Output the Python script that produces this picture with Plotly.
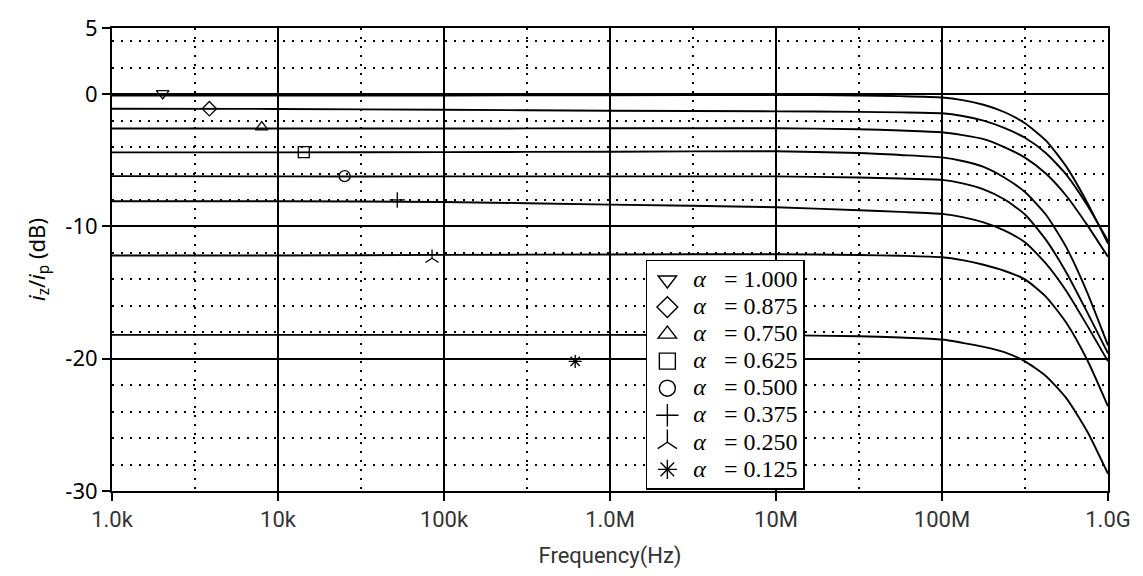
import plotly.graph_objects as go

# ---------------- data ----------------
freq = [1e3, 1e4, 1e5, 1e6, 1e7, 3.16e7, 5.62e7, 1e8, 1.33e8, 1.78e8, 2.37e8,
        3.16e8, 4.22e8, 5.62e8, 7.5e8, 1e9]

a1000 = [-0.10, -0.10, -0.10, -0.08, -0.06, -0.10, -0.15, -0.25, -0.45, -0.80, -1.35,
         -2.20, -3.50, -5.50, -8.20, -11.30]
a0875 = [-1.10, -1.12, -1.18, -1.25, -1.30, -1.34, -1.38, -1.45, -1.65, -2.00, -2.55,
         -3.30, -4.45, -6.10, -8.40, -11.10]
a0750 = [-2.60, -2.60, -2.60, -2.58, -2.58, -2.65, -2.75, -2.88, -3.10, -3.40, -4.00,
         -4.80, -6.00, -7.70, -9.90, -12.30]
a0625 = [-4.40, -4.40, -4.38, -4.35, -4.32, -4.45, -4.60, -4.78, -5.05, -5.50, -6.30,
         -7.40, -9.10, -11.60, -15.00, -19.00]
a0500 = [-6.20, -6.22, -6.22, -6.22, -6.22, -6.30, -6.38, -6.48, -6.75, -7.20, -7.95,
         -9.10, -11.00, -13.50, -16.50, -19.60]
a0375 = [-8.10, -8.10, -8.15, -8.35, -8.55, -8.78, -8.90, -9.05, -9.30, -9.70, -10.30,
         -11.20, -12.80, -14.90, -17.50, -20.20]
a0250 = [-12.20, -12.20, -12.15, -12.12, -12.10, -12.16, -12.22, -12.33, -12.55, -12.90, -13.35,
         -14.00, -15.30, -17.30, -20.10, -23.60]
a0125 = [-18.20, -18.20, -18.20, -18.20, -18.22, -18.30, -18.40, -18.55, -18.80, -19.10, -19.50,
         -20.20, -21.30, -23.00, -25.50, -28.70]

curves = [a1000, a0875, a0750, a0625, a0500, a0375, a0250, a0125]
labels = ["1.000", "0.875", "0.750", "0.625", "0.500", "0.375", "0.250", "0.125"]
symbols = ["triangle-down-open", "diamond-open", "triangle-up-open", "square-open",
           "circle-open", "cross-thin-open", "y-up-open", "asterisk-open"]

# single marker placed on each curve
mk_freq = [2.02e3, 3.86e3, 7.98e3, 1.43e4, 2.52e4, 5.23e4, 8.47e4, 6.17e5]
mk_db = [0.06, -1.10, -2.49, -4.38, -6.20, -8.00, -12.40, -20.20]

xtick_vals = [1e3, 1e4, 1e5, 1e6, 1e7, 1e8, 1e9]
xtick_text = ["1.0k", "10k", "100k", "1.0M", "10M", "100M", "1.0G"]
xminor_vals = [3.162e3, 3.162e4, 3.162e5, 3.162e6, 3.162e7, 3.162e8]
ytick_vals = [-30, -20, -10, 0, 5]
ytick_text = ["-30", "-20", "-10", "0", "5"]
yminor_vals = [-28, -26, -24, -22, -18, -16, -14, -12, -8, -6, -4, -2, 2, 4]

# ---------------- figure ----------------
fig = go.Figure()

for ys in curves:
    fig.add_trace(go.Scatter(
        x=freq, y=ys, mode="lines",
        line=dict(color="black", width=1.9, shape="spline", smoothing=0.6),
        showlegend=False, hoverinfo="skip"))

for i, lab in enumerate(labels):
    fig.add_trace(go.Scatter(
        x=[mk_freq[i]], y=[mk_db[i]], mode="markers",
        marker=dict(symbol=symbols[i], size=11, color="black",
                    line=dict(color="black", width=1.3)),
        showlegend=False))
    # legend entry (larger symbol, no point drawn)
    fig.add_trace(go.Scatter(
        x=[None], y=[None], mode="markers",
        marker=dict(symbol=symbols[i], size=16, color="black",
                    line=dict(color="black", width=1.4)),
        name='<span style="font-size:24px">\u00a0<i>α</i>\u00a0\u00a0\u00a0= ' + lab + '</span>'))

tickfont = dict(family="Noto Sans, DejaVu Sans, sans-serif", size=22, color="black")
xfont = dict(family="Liberation Sans Narrow, Roboto, sans-serif", size=22, color="#333")

fig.update_layout(
    width=1143, height=576,
    margin=dict(l=112, r=29, t=25, b=80),
    paper_bgcolor="white", plot_bgcolor="white",
    showlegend=True,
    legend=dict(
        x=0.536, y=0.499, xanchor="left", yanchor="top",
        bgcolor="white", bordercolor="black", borderwidth=1.5,
        font=dict(family="Liberation Serif, Times New Roman, serif", size=18.5, color="black"),
        itemsizing="trace"),
    xaxis=dict(
        type="log", range=[3, 9],
        tickmode="array", tickvals=xtick_vals, ticktext=xtick_text,
        tickfont=xfont,
        ticks="outside", ticklen=8, tickwidth=1.5, tickcolor="black",
        showgrid=True, gridcolor="black", gridwidth=1.5,
        showline=True, linecolor="black", linewidth=2, mirror=True,
        minor=dict(tickmode="array", tickvals=xminor_vals, showgrid=True,
                   gridcolor="black", gridwidth=2, griddash="2px,7px", ticks=""),
        title=dict(text="Frequency(Hz)", standoff=16, font=xfont),
        zeroline=False),
    yaxis=dict(
        range=[-30, 5],
        tickmode="array", tickvals=ytick_vals, ticktext=ytick_text,
        tickfont=tickfont,
        ticks="outside", ticklen=8, tickwidth=1.5, tickcolor="black",
        showgrid=True, gridcolor="black", gridwidth=1.5,
        showline=True, linecolor="black", linewidth=2, mirror=True,
        minor=dict(tickmode="array", tickvals=yminor_vals, showgrid=True,
                   gridcolor="black", gridwidth=2, griddash="2px,7px", ticks=""),
        title=dict(text="<i>i</i><sub>z</sub>/<i>i</i><sub>p</sub> (dB)", standoff=14,
                   font=dict(family="Noto Sans, DejaVu Sans, sans-serif", size=22, color="black")),
        zeroline=False),
)

fig.write_html("out.html")
